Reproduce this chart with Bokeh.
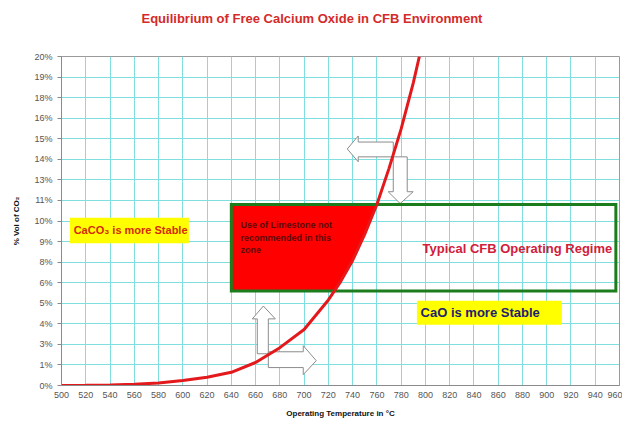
import numpy as np
from bokeh.plotting import figure
from bokeh.models import Range1d, FixedTicker, Title
from bokeh.core.properties import value
from bokeh.embed import file_html
from bokeh.resources import INLINE

# ---- data ----
temps = [500, 520, 540, 560, 580, 600, 620, 640, 660, 680, 700, 720, 730, 740, 750, 760, 770, 780, 790, 795]
co2_pct = [0.0, 0.01, 0.03, 0.07, 0.15, 0.3, 0.5, 0.8, 1.4, 2.3, 3.4, 5.2, 6.3, 7.6, 9.2, 11.0, 13.2, 15.6, 18.4, 20.0]

x_ticks = [500, 520, 540, 560, 580, 600, 620, 640, 660, 680, 700, 720, 740, 760, 780,
           800, 820, 840, 860, 880, 900, 920, 940, 960]
y_ticks = [0, 1.25, 2.5, 3.75, 5, 6.25, 7.5, 8.75, 10, 11.25, 12.5, 13.75, 15, 16.25, 17.5, 18.75, 20]
y_tick_labels = ["0%", "1%", "3%", "4%", "5%", "6%", "8%", "9%", "10%", "11%", "13%", "14%",
                 "15%", "16%", "18%", "19%", "20%"]

# operating regime box (temperature, % CO2)
regime_box = dict(left=640, right=957, bottom=5.75, top=11.0)

# yellow label boxes
caco3_box = dict(left=507, right=605, bottom=8.65, top=10.2)
cao_box = dict(left=793, right=912.5, bottom=3.7, top=5.15)

# block arrows (temperature, % CO2)
arrow_xs = [
    [735.6, 744.6, 744.6, 773.5, 773.5, 744.6, 744.6],
    [773.5, 785.0, 785.0, 789.9, 779.2, 769.3, 773.5],
    [666.4, 676.3, 670.5, 670.5, 661.4, 661.4, 657.3],
    [670.5, 699.3, 699.3, 710.0, 699.3, 699.3, 670.5],
]
arrow_ys = [
    [14.38, 15.17, 14.80, 14.80, 13.90, 13.90, 13.60],
    [13.90, 13.90, 11.78, 11.78, 11.06, 11.78, 11.78],
    [4.83, 4.05, 4.05, 1.93, 1.93, 4.05, 4.05],
    [2.05, 2.05, 2.42, 1.51, 0.66, 1.09, 1.09],
]

FONT = value("Liberation Sans")

p = figure(width=622, height=420, output_backend="svg", toolbar_location=None,
           x_range=Range1d(500, 960), y_range=Range1d(0, 20),
           min_border_left=61, min_border_right=3, min_border_top=56, min_border_bottom=33,
           background_fill_color="white", border_fill_color="white")

p.title.text = "Equilibrium of Free Calcium Oxide in CFB Environment"
p.title.align = "left"
p.title.offset = 80
p.title.vertical_align = "top"
p.title.standoff = 0
p.title.text_font = "Liberation Sans"
p.title.text_font_size = "13px"
p.title.text_font_style = "bold"
p.title.text_color = "#d42a2a"

# white (invisible) spacer panel between the title and the plot frame
p.add_layout(Title(text=".", text_font_size="2px", text_color="white", standoff=26), "above")

p.outline_line_color = "#9a9a9a"
p.outline_line_width = 1

# axes
p.xaxis.ticker = FixedTicker(ticks=x_ticks)
p.yaxis.ticker = FixedTicker(ticks=y_ticks)
p.yaxis.major_label_overrides = {t: l for t, l in zip(y_ticks, y_tick_labels)}
for ax in (p.xaxis[0], p.yaxis[0]):
    ax.axis_line_color = "#8a8a8a"
    ax.major_tick_line_color = "#8a8a8a"
    ax.minor_tick_line_color = None
    ax.major_tick_in = 0
    ax.major_label_text_font = "Liberation Sans"
    ax.major_label_text_font_size = "9px"
    ax.major_label_text_color = "#555555"
    ax.axis_label_text_font = "Liberation Sans"
    ax.axis_label_text_font_size = "8px"
    ax.axis_label_text_font_style = "bold"
    ax.axis_label_text_color = "#111111"
p.xaxis.major_tick_out = 0
p.xaxis.major_label_standoff = 6
p.xaxis.axis_label = "Operating Temperature in \u00b0C"
p.xaxis.axis_label_standoff = 8
p.yaxis.major_tick_out = 4
p.yaxis.major_label_standoff = 5
p.yaxis.axis_label = "% Vol of CO\u2082"
p.yaxis.axis_label_standoff = 10

p.xgrid.ticker = FixedTicker(ticks=x_ticks)
p.ygrid.ticker = FixedTicker(ticks=y_ticks)
p.grid.grid_line_color = "#7fdede"
p.grid.grid_line_width = 1

# red "not recommended" zone: left of the curve inside the regime box
t_low = float(np.interp(regime_box["bottom"], co2_pct, temps))
t_high = float(np.interp(regime_box["top"], co2_pct, temps))
inner = [(t, v) for t, v in zip(temps, co2_pct) if regime_box["bottom"] < v < regime_box["top"]]
fill_x = [regime_box["left"], regime_box["left"], t_high] + [t for t, v in reversed(inner)] + [t_low]
fill_y = [regime_box["bottom"], regime_box["top"], regime_box["top"]] + [v for t, v in reversed(inner)] + [regime_box["bottom"]]
p.patch(fill_x, fill_y, fill_color="#ff0000", line_color=None)

# yellow label boxes
p.quad(left=[caco3_box["left"], cao_box["left"]], right=[caco3_box["right"], cao_box["right"]],
       bottom=[caco3_box["bottom"], cao_box["bottom"]], top=[caco3_box["top"], cao_box["top"]],
       fill_color="#ffff00", line_color=None)

# block arrows
p.patches(arrow_xs, arrow_ys, fill_color="white", line_color="#8c8c8c", line_width=1)

# regime box outline
p.quad(left=[regime_box["left"]], right=[regime_box["right"]], bottom=[regime_box["bottom"]],
       top=[regime_box["top"]], fill_alpha=0, line_color="#1c7d1c", line_width=3, line_join="miter")

# equilibrium curve
p.line(temps, co2_pct, line_color="#e3191c", line_width=3)

# texts
p.text(x=[caco3_box["left"] + 3], y=[(caco3_box["bottom"] + caco3_box["top"]) / 2],
       text=["CaCO\u2083 is more Stable"], text_font=FONT, text_font_style="bold",
       text_font_size="11px", text_color="#d42a0a", text_baseline="middle", text_align="left")
p.text(x=[cao_box["left"] + 3], y=[(cao_box["bottom"] + cao_box["top"]) / 2],
       text=["CaO is more Stable"], text_font=FONT, text_font_style="bold",
       text_font_size="13px", text_color="#1f2070", text_baseline="middle", text_align="left")
p.text(x=[954], y=[8.3], text=["Typical CFB Operating Regime"], text_font=FONT,
       text_font_style="bold", text_font_size="13px", text_color="#d0203a",
       text_baseline="middle", text_align="right")
p.text(x=[647.5], y=[10.05], text=["Use of Limestone not\nrecommended in this\nzone"],
       text_font=FONT, text_font_style="bold", text_font_size="9px", text_color="#5a0a0a",
       text_baseline="top", text_align="left", text_line_height=1.25)

open("out.html", "w").write(file_html(p, INLINE))
